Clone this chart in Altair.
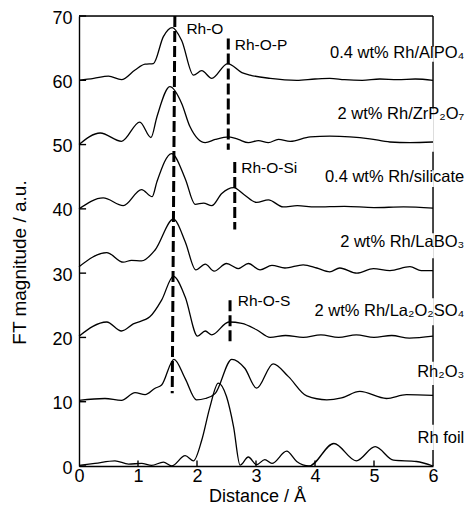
import altair as alt
import pandas as pd

FONT = "Liberation Sans, Arial, Helvetica, sans-serif"

# ---- curves (values already include the vertical offset of each trace) ----
alpo4_x = [0, 0.25, 0.5, 0.72, 0.95, 1.12, 1.26, 1.43, 1.58, 1.74, 1.94, 2.08, 2.25, 2.52, 2.76, 2.9, 3.24, 3.69, 4.0, 4.25, 4.5, 4.8, 5.1, 5.4, 5.7, 6.0]
alpo4_y = [60.0, 60.3, 60.65, 60.1, 61.6, 62.5, 62.6, 66.8, 68.2, 66.2, 60.8, 61.5, 60.3, 62.6, 61.2, 60.8, 60.3, 60.0, 60.2, 60.3, 60.1, 60.0, 60.2, 60.1, 60.2, 60.0]

zrp2o7_x = [0, 0.36, 0.72, 1.03, 1.22, 1.32, 1.54, 1.74, 1.88, 2.14, 2.31, 2.54, 2.70, 2.87, 3.04, 3.21, 3.38, 3.58, 3.92, 4.25, 4.59, 4.93, 5.27, 5.61, 6.0]
zrp2o7_y = [50.0, 51.8, 50.5, 53.5, 51.1, 54.3, 59.0, 56.4, 52.8, 50.3, 50.8, 51.2, 50.8, 50.3, 50.6, 50.3, 50.8, 50.5, 51.2, 51.3, 51.2, 50.9, 50.4, 50.3, 50.4]

silicate_x = [0, 0.41, 0.75, 1.06, 1.24, 1.32, 1.57, 1.80, 1.97, 2.11, 2.25, 2.42, 2.62, 2.80, 3.01, 3.21, 3.46, 3.70, 4.0, 4.5, 5.0, 5.5, 6.0]
silicate_y = [40.0, 41.7, 40.5, 43.0, 41.9, 44.2, 48.6, 44.7, 40.7, 40.9, 40.5, 42.4, 43.3, 42.2, 41.0, 41.4, 40.3, 40.5, 40.3, 40.4, 40.2, 40.3, 40.1]

labo3_x = [0, 0.47, 0.75, 0.89, 1.06, 1.29, 1.60, 1.80, 1.98, 2.14, 2.29, 2.50, 2.70, 2.87, 3.07, 3.27, 3.49, 3.80, 4.03, 4.25, 4.42, 4.71, 4.99, 5.27, 5.61, 5.80, 6.0]
labo3_y = [31.0, 33.2, 31.7, 32.0, 31.9, 33.6, 38.4, 34.9, 30.5, 31.4, 30.3, 31.5, 30.7, 31.5, 30.5, 31.2, 30.8, 31.3, 30.8, 30.2, 30.8, 30.0, 30.7, 30.4, 31.0, 30.4, 30.4]

la2o2so4_x = [0, 0.47, 0.72, 0.92, 1.20, 1.40, 1.60, 1.80, 2.01, 2.14, 2.25, 2.54, 2.76, 3.01, 3.24, 3.50, 3.80, 4.10, 4.40, 4.70, 5.00, 5.30, 5.60, 6.0]
la2o2so4_y = [20.2, 22.4, 21.0, 22.1, 23.2, 25.8, 29.5, 26.3, 20.2, 21.0, 20.4, 22.4, 22.2, 21.2, 20.0, 20.3, 20.0, 20.4, 20.0, 20.4, 20.0, 20.3, 19.9, 20.2]

rh2o3_x = [0, 0.44, 0.72, 0.95, 1.12, 1.29, 1.40, 1.61, 1.80, 1.99, 2.14, 2.31, 2.59, 2.81, 3.01, 3.29, 3.55, 3.86, 4.20, 4.45, 4.76, 5.21, 5.55, 6.0]
rh2o3_y = [10.2, 10.5, 10.2, 11.4, 11.1, 12.1, 12.6, 16.6, 13.6, 10.3, 10.5, 11.3, 16.6, 15.2, 12.1, 15.9, 13.9, 10.9, 10.3, 10.6, 11.6, 10.5, 11.1, 11.0]

rhfoil_x = [0, 0.27, 0.61, 0.84, 1.06, 1.23, 1.43, 1.57, 1.80, 1.94, 2.08, 2.22, 2.36, 2.50, 2.62, 2.73, 2.87, 3.01, 3.15, 3.27, 3.52, 3.69, 3.90, 4.32, 4.70, 5.02, 5.33, 5.72, 6.0]
rhfoil_y = [0.1, 0.4, 0.8, 0.3, 0.4, 0.1, 0.6, 0.0, 1.6, 0.8, 4.0, 9.2, 12.9, 10.8, 6.1, 0.15, 1.4, 0.2, 1.0, 0.4, 2.3, 0.7, 0.0, 3.5, 0.8, 3.0, 0.9, 0.7, 0.0]

series = [
    ("AlPO4", alpo4_x, alpo4_y),
    ("ZrP2O7", zrp2o7_x, zrp2o7_y),
    ("silicate", silicate_x, silicate_y),
    ("LaBO3", labo3_x, labo3_y),
    ("La2O2SO4", la2o2so4_x, la2o2so4_y),
    ("Rh2O3", rh2o3_x, rh2o3_y),
    ("Rh foil", rhfoil_x, rhfoil_y),
]

# ---- sample labels ----
sample_labels = ["0.4 wt% Rh/AlPO₄", "2 wt% Rh/ZrP₂O₇", "0.4 wt% Rh/silicate",
                 "2 wt% Rh/LaBO₃", "2 wt% Rh/La₂O₂SO₄", "Rh₂O₃", "Rh foil"]
sample_label_x = [6.53] * 7
sample_label_y = [64.3, 54.7, 44.9, 34.8, 24.1, 14.6, 4.4]

# ---- bond annotations ----
bond_labels = ["Rh-O", "Rh-O-P", "Rh-O-Si", "Rh-O-S"]
bond_label_x = [1.82, 2.64, 2.75, 2.69]
bond_label_y = [68.0, 65.5, 46.3, 25.6]

# dashed marker lines: x top, x bottom, y top, y bottom
dash_x1 = [1.625, 2.53, 2.64, 2.56]
dash_x2 = [1.58, 2.53, 2.64, 2.56]
dash_y1 = [70.0, 66.5, 47.3, 25.8]
dash_y2 = [11.3, 49.2, 36.8, 19.1]

# right frame segments (interrupted by labels)
frame_y1 = [70.0, 62.9, 48.9, 43.4, 32.3, 21.9, 12.6, 2.5]
frame_y2 = [65.2, 55.6, 46.0, 36.2, 26.1, 16.2, 6.4, 0.0]

y_ticks = [0, 10, 20, 30, 40, 50, 60, 70]
x_ticks = [0, 1, 2, 3, 4, 5, 6]
x_inner_ticks = [1, 2, 3, 4, 5]

rows = []
for name, xs_, ys_ in series:
    for i, (a, b) in enumerate(zip(xs_, ys_)):
        rows.append({"series": name, "r": a, "ft": b, "order": i})
curves = pd.DataFrame(rows)

xs = alt.Scale(domain=[0, 6], nice=False, zero=False)
ys = alt.Scale(domain=[0, 70], nice=False, zero=False)

lines = alt.Chart(curves).mark_line(
    color="black", strokeWidth=1.3, interpolate="monotone"
).encode(
    x=alt.X("r:Q", scale=xs, title="Distance / Å",
            axis=alt.Axis(values=x_ticks, format="d", ticks=False, grid=False,
                          domainColor="black", domainWidth=1.4,
                          labelFont=FONT, labelFontSize=18, labelColor="black",
                          labelPadding=1, labelFlush=False,
                          titleFont=FONT, titleFontSize=18, titleFontWeight="normal",
                          titleColor="black", titleX=178, titleY=35,
                          titleBaseline="alphabetic", titleAlign="center")),
    y=alt.Y("ft:Q", scale=ys, title="FT magnitude / a.u.",
            axis=alt.Axis(values=y_ticks, format="d", ticks=False, grid=False,
                          domainColor="black", domainWidth=1.4,
                          labelFont=FONT, labelFontSize=18, labelColor="black",
                          labelPadding=7, labelFlush=False, labelOffset=2,
                          titleFont=FONT, titleFontSize=19, titleFontWeight="normal",
                          titleColor="black", titleX=-54, titleY=246, titleAngle=270,
                          titleBaseline="alphabetic", titleAlign="center")),
    detail="series:N",
    order="order:Q",
)

dash_df = pd.DataFrame({"x1": dash_x1, "x2": dash_x2, "y1": dash_y1, "y2": dash_y2})
dashes = alt.Chart(dash_df).mark_rule(
    color="black", strokeWidth=3, strokeDash=[11, 4]
).encode(
    x=alt.X("x1:Q", scale=xs), x2="x2:Q",
    y=alt.Y("y1:Q", scale=ys), y2="y2:Q",
)

frame_df = pd.DataFrame({"y1": frame_y1, "y2": frame_y2, "x": [6] * len(frame_y1)})
right_frame = alt.Chart(frame_df).mark_rule(color="black", strokeWidth=1.4).encode(
    x=alt.X("x:Q", scale=xs), y=alt.Y("y1:Q", scale=ys), y2="y2:Q"
)

top_df = pd.DataFrame({"x1": [0], "x2": [6], "y": [70]})
top_frame = alt.Chart(top_df).mark_rule(color="black", strokeWidth=1.4).encode(
    x=alt.X("x1:Q", scale=xs), x2="x2:Q", y=alt.Y("y:Q", scale=ys)
)

ytick_df = pd.DataFrame({"v": y_ticks, "x1": [0] * len(y_ticks), "x2": [0.12] * len(y_ticks)})
yticks = alt.Chart(ytick_df).mark_rule(color="black", strokeWidth=1.4).encode(
    x=alt.X("x1:Q", scale=xs), x2="x2:Q", y=alt.Y("v:Q", scale=ys)
)
xtick_df = pd.DataFrame({"v": x_inner_ticks, "y1": [0] * 5, "y2": [0.85] * 5})
xticks = alt.Chart(xtick_df).mark_rule(color="black", strokeWidth=1.4).encode(
    x=alt.X("v:Q", scale=xs), y=alt.Y("y1:Q", scale=ys), y2="y2:Q"
)

sample_df = pd.DataFrame({"t": sample_labels, "x": sample_label_x, "y": sample_label_y})
sample_text = alt.Chart(sample_df).mark_text(
    align="right", baseline="middle", font=FONT, fontSize=16.5, color="black"
).encode(x=alt.X("x:Q", scale=xs), y=alt.Y("y:Q", scale=ys), text="t:N")

bond_df = pd.DataFrame({"t": bond_labels, "x": bond_label_x, "y": bond_label_y})
bond_text = alt.Chart(bond_df).mark_text(
    align="left", baseline="middle", font=FONT, fontSize=15.5, color="black"
).encode(x=alt.X("x:Q", scale=xs), y=alt.Y("y:Q", scale=ys), text="t:N")

chart = alt.layer(
    lines, dashes, right_frame, top_frame, yticks, xticks, sample_text, bond_text
).properties(
    width=354, height=450, autosize="none",
    padding={"left": 71, "top": 8, "right": 33, "bottom": 40},
).configure_view(stroke=None).configure(background="white")

chart.save("out.html", embed_options={"renderer": "svg", "actions": False})
